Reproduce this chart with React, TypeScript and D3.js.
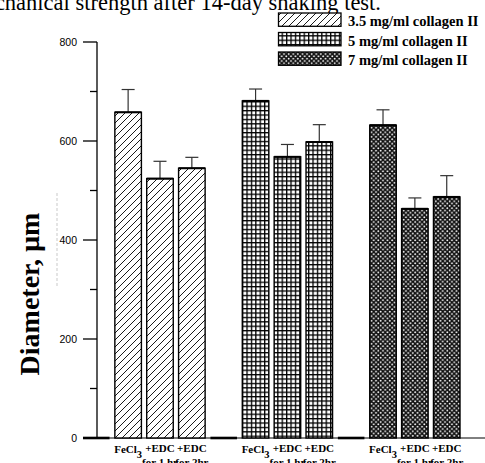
import React from "react";
import * as d3 from "d3";

const groups = ["3.5 mg/ml collagen II", "5 mg/ml collagen II", "7 mg/ml collagen II"];
const treatments = ["FeCl3", "+EDC for 1 hr", "+EDC for 2hr"];
const means35 = [658, 524, 545];
const means5 = [681, 568, 598];
const means7 = [632, 463, 487];
const errs35 = [46, 35, 22];
const errs5 = [24, 25, 35];
const errs7 = [31, 22, 43];
const yTicks = [0, 200, 400, 600, 800];
const yMinorTicks = [100, 300, 500, 700];
const titleText = "Mechanical strength after 14-day shaking test.";
const yTitle = "Diameter, µm";

const allMeans = [means35, means5, means7];
const allErrs = [errs35, errs5, errs7];
const patternIds = ["pat-hatch", "pat-grid", "pat-dots"];

type Slot = { key: string; g: number; t: number; value: number; err: number };

const slots: Slot[] = [];
groups.forEach((_, g) => {
  slots.push({ key: `sp${g}`, g, t: -1, value: 0, err: 0 });
  treatments.forEach((_, t) => {
    slots.push({ key: `b${g}-${t}`, g, t, value: allMeans[g][t], err: allErrs[g][t] });
  });
});

const W = 485;
const H = 463;
const x = d3.scaleBand<string>().domain(slots.map((s) => s.key)).range([83, 460]).paddingInner(0.167).paddingOuter(0);
const y = d3.scaleLinear().domain([0, 800]).range([438, 42]);
const axisX = 97;

function XLabel({ label, cx }: { label: string; cx: number }) {
  const fs = 11;
  if (label === "FeCl3") {
    return (
      <text x={cx} y={453.3} textAnchor="middle" fontFamily="Liberation Serif" fontWeight="bold" fontSize={fs}>
        FeCl<tspan dy={4.5} fontSize={10.5}>3</tspan>
      </text>
    );
  }
  const parts = label.split(" ");
  const line1 = parts[0];
  const line2 = parts.slice(1).join(" ");
  return (
    <g fontFamily="Liberation Serif" fontWeight="bold" fontSize={fs} textAnchor="middle">
      <text x={cx} y={451.8}>{line1}</text>
      <text x={cx} y={466}>{line2}</text>
    </g>
  );
}

export default function App() {
  const bw = x.bandwidth();
  return (
    <svg width={W} height={H} style={{ position: "absolute", left: 0, top: 0, background: "#fff" }}>
      <defs>
        <pattern id="pat-hatch" patternUnits="userSpaceOnUse" width={7} height={7}>
          <rect width={7} height={7} fill="#fff" />
          <path d="M-1,1 l2,-2 M0,7 l7,-7 M6,8 l2,-2" stroke="#000" strokeWidth={0.9} />
        </pattern>
        <pattern id="pat-grid" patternUnits="userSpaceOnUse" width={4.4} height={4.4}>
          <rect width={4.4} height={4.4} fill="#fff" />
          <rect x={0} y={0} width={4.4} height={1.3} fill="#000" />
          <rect x={0} y={0} width={1.3} height={4.4} fill="#000" />
        </pattern>
        <pattern id="pat-dots" patternUnits="userSpaceOnUse" width={4.6} height={4.6}>
          <rect width={4.6} height={4.6} fill="#111" />
          <circle cx={1.15} cy={1.15} r={0.95} fill="#fff" />
          <circle cx={3.45} cy={3.45} r={0.95} fill="#fff" />
        </pattern>
      </defs>

      {/* cropped title */}
      <text x={381} y={9.5} textAnchor="end" fontFamily="Liberation Serif" fontSize={22.5}>
        {titleText}
      </text>

      {/* legend */}
      {groups.map((gname, i) => (
        <g key={gname}>
          <rect x={278.5} y={13 + i * 19.5} width={62.5} height={13.3} fill={`url(#${patternIds[i]})`} stroke="#000" strokeWidth={1.3} />
          <text x={348} y={26 + i * 19.5} fontFamily="Liberation Serif" fontWeight="bold" fontSize={14.5}>
            {gname}
          </text>
        </g>
      ))}

      {/* faint dashed artifact */}
      <line x1={57} x2={57} y1={193} y2={288} stroke="#bbb" strokeWidth={0.8} strokeDasharray="3,2" />

      {/* y title */}
      <text
        transform={`translate(39,294) rotate(-90)`}
        textAnchor="middle"
        fontFamily="Liberation Serif"
        fontWeight="bold"
        fontSize={28}
      >
        {yTitle}
      </text>

      {/* y axis */}
      <line x1={axisX} x2={axisX} y1={y(800)} y2={y(0)} stroke="#000" strokeWidth={1.3} />
      {yTicks.map((t) => (
        <g key={t}>
          <line x1={83} x2={axisX} y1={y(t)} y2={y(t)} stroke="#000" strokeWidth={1.3} />
          <text x={77} y={y(t) + 3.8} textAnchor="end" fontFamily="Liberation Sans" fontSize={10.5}>
            {t}
          </text>
        </g>
      ))}
      {yMinorTicks.map((t) => (
        <line key={t} x1={90} x2={axisX} y1={y(t)} y2={y(t)} stroke="#000" strokeWidth={1.3} />
      ))}

      {/* baseline */}
      <line x1={83} x2={W} y1={y(0)} y2={y(0)} stroke="#000" strokeWidth={1} />

      {/* bars */}
      {slots.map((s) => {
        const x0 = x(s.key) as number;
        if (s.t < 0) {
          return <rect key={s.key} x={x0} y={y(0) - 1.3} width={bw} height={2.6} fill="#000" />;
        }
        const top = y(s.value);
        const cx = x0 + bw / 2;
        const capY = y(s.value + s.err);
        return (
          <g key={s.key}>
            <line x1={cx} x2={cx} y1={top} y2={capY} stroke="#333" strokeWidth={1.2} />
            <line x1={cx - 6.5} x2={cx + 6.5} y1={capY} y2={capY} stroke="#333" strokeWidth={1.2} />
            <rect x={x0} y={top} width={bw} height={y(0) - top} fill={`url(#${patternIds[s.g]})`} stroke="#000" strokeWidth={1.4} />
            <line x1={x0} x2={x0 + bw} y1={top} y2={top} stroke="#000" strokeWidth={2} />
            <XLabel label={treatments[s.t]} cx={cx} />
          </g>
        );
      })}
    </svg>
  );
}
